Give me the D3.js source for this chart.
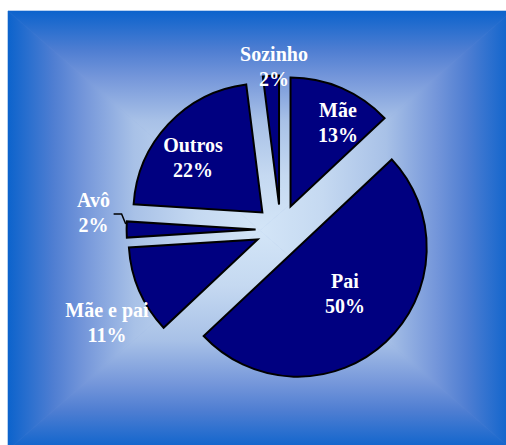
<!DOCTYPE html>
<html>
<head>
<meta charset="utf-8">
<script src="https://cdn.jsdelivr.net/npm/d3@7"></script>
<style>
  html, body { margin: 0; padding: 0; background: #ffffff; }
  svg { display: block; }
</style>
</head>
<body>
<svg id="chart" width="506" height="445"></svg>
<script>
// ---- data ----
const categories = ["Mãe", "Pai", "Mãe e pai", "Avô", "Outros", "Sozinho"];
const values = [13, 50, 11, 2, 22, 2];
const percentLabels = ["13%", "50%", "11%", "2%", "22%", "2%"];

// ---- layout / style (not data) ----
const W = 506, H = 445;
const bg = { x0: 8, y0: 11, x1: 512, y1: 450 };
const cx = 280.6, cy = 229.5;
const radius = 129;
const explode = 25;
const sliceFill = "#000080";
// label anchor offsets from pie centre (centre x, first baseline)
const labelPos = {
  "Mãe":       [57.4, -112.5],
  "Pai":       [64.4, 58.5],
  "Mãe e pai": [-173.6, 87.5],
  "Avô":       [-187, -22.5],
  "Outros":    [-87.6, -77.5],
  "Sozinho":   [-6.6, -168.5]
};

const svg = d3.select("#chart");
const defs = svg.append("defs");

// ---- rectangular "from centre" gradient background ----
const gcx = (bg.x0 + bg.x1) / 2, gcy = (bg.y0 + bg.y1) / 2;
const stops = [
  [0, "#0c63cc"], [0.18, "#4f7ed2"], [0.3, "#7496da"],
  [0.5, "#a8c1e7"], [0.75, "#c5d9f1"], [1, "#d3e5f7"]
];
function addGrad(id, x1, y1, x2, y2) {
  const g = defs.append("linearGradient").attr("id", id)
    .attr("gradientUnits", "userSpaceOnUse")
    .attr("x1", x1).attr("y1", y1).attr("x2", x2).attr("y2", y2);
  stops.forEach(s => g.append("stop").attr("offset", s[0]).attr("stop-color", s[1]));
}
addGrad("gTop", gcx, bg.y0, gcx, gcy);
addGrad("gBottom", gcx, bg.y1, gcx, gcy);
addGrad("gLeft", bg.x0, gcy, gcx, gcy);
addGrad("gRight", bg.x1, gcy, gcx, gcy);

const bgG = svg.append("g");
bgG.append("rect").attr("x", bg.x0).attr("y", bg.y0)
  .attr("width", bg.x1 - bg.x0).attr("height", bg.y1 - bg.y0)
  .attr("fill", "#7a9bdb");
const tri = (pts, fill) => bgG.append("path")
  .attr("d", "M" + pts.map(p => p.join(",")).join("L") + "Z")
  .attr("fill", fill).attr("stroke", fill).attr("stroke-width", 0.6);
tri([[bg.x0, bg.y0], [bg.x1, bg.y0], [gcx, gcy]], "url(#gTop)");
tri([[bg.x0, bg.y1], [bg.x1, bg.y1], [gcx, gcy]], "url(#gBottom)");
tri([[bg.x0, bg.y0], [bg.x0, bg.y1], [gcx, gcy]], "url(#gLeft)");
tri([[bg.x1, bg.y0], [bg.x1, bg.y1], [gcx, gcy]], "url(#gRight)");

// ---- pie ----
const data = categories.map((c, i) => ({ cat: c, value: values[i], pct: percentLabels[i] }));
const pie = d3.pie().sort(null).value(d => d.value).startAngle(0).endAngle(2 * Math.PI);
const arc = d3.arc().innerRadius(0).outerRadius(radius);
const arcs = pie(data);

const pieG = svg.append("g").attr("transform", `translate(${cx},${cy})`);
pieG.selectAll("path.slice").data(arcs).enter().append("path")
  .attr("class", "slice")
  .attr("transform", d => {
    const a = (d.startAngle + d.endAngle) / 2;
    return `translate(${explode * Math.sin(a)},${-explode * Math.cos(a)})`;
  })
  .attr("d", arc)
  .attr("fill", sliceFill)
  .attr("stroke", "#000000")
  .attr("stroke-width", 2)
  .attr("stroke-linejoin", "miter");

// leader line for Avô
const avo = arcs.find(d => d.data.cat === "Avô");
{
  const a = (avo.startAngle + avo.endAngle) / 2;
  const ex = explode * Math.sin(a) + (radius + 1) * Math.sin(avo.endAngle - 0.02);
  const ey = -explode * Math.cos(a) - (radius + 1) * Math.cos(avo.endAngle - 0.02);
  const lx = labelPos["Avô"][0], ly = labelPos["Avô"][1];
  pieG.append("path")
    .attr("d", `M${lx + 20},${ly + 7}L${lx + 28},${ly + 7}L${ex},${ey}`)
    .attr("fill", "none").attr("stroke", "#000").attr("stroke-width", 1.5);
}

// labels
const lab = pieG.selectAll("text.lbl").data(arcs).enter().append("text")
  .attr("class", "lbl")
  .attr("text-anchor", "middle")
  .attr("font-family", "'Liberation Serif', 'Times New Roman', serif")
  .attr("font-weight", "bold")
  .attr("font-size", 20)
  .attr("fill", "#ffffff");
lab.append("tspan")
  .attr("x", d => labelPos[d.data.cat][0])
  .attr("y", d => labelPos[d.data.cat][1])
  .text(d => d.data.cat);
lab.append("tspan")
  .attr("x", d => labelPos[d.data.cat][0])
  .attr("y", d => labelPos[d.data.cat][1] + 25)
  .text(d => d.data.pct);
</script>
</body>
</html>
